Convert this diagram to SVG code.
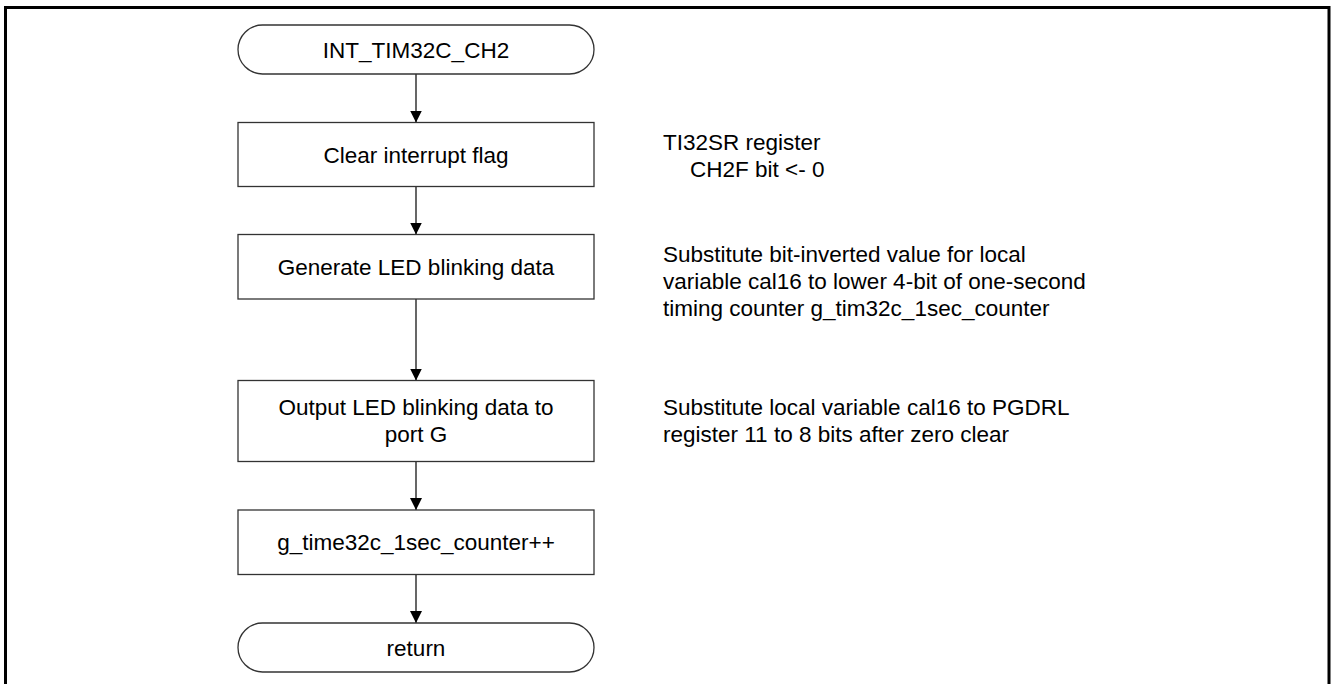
<svg xmlns="http://www.w3.org/2000/svg" width="1332" height="684" viewBox="0 0 1332 684">
<style>
  text { font-family: "Liberation Sans", Arial, sans-serif; font-size: 22.5px; fill: #000; }
  .c { text-anchor: middle; }
  .node { fill: #fff; stroke: #333; stroke-width: 1.3; }
  .conn { stroke: #000; stroke-width: 1.2; fill: none; marker-end: url(#arr); }
</style>
<defs>
  <marker id="arr" viewBox="0 0 12 12" refX="12" refY="6" markerWidth="12" markerHeight="12" markerUnits="userSpaceOnUse" orient="auto">
    <path d="M0,0 L12,6 L0,12 Z" fill="#000"/>
  </marker>
</defs>
<rect x="0" y="0" width="1332" height="684" fill="#fff"/>
<path d="M5.5,690 V7.5 H1329 V690" fill="none" stroke="#000" stroke-width="3"/>

<g id="connectors">
  <line class="conn" x1="416" y1="74" x2="416" y2="122.5"/>
  <line class="conn" x1="416" y1="186.5" x2="416" y2="234.5"/>
  <line class="conn" x1="416" y1="299" x2="416" y2="380.5"/>
  <line class="conn" x1="416" y1="461.5" x2="416" y2="510"/>
  <line class="conn" x1="416" y1="574.5" x2="416" y2="623"/>
</g>

<g id="start">
  <rect class="node" x="238" y="25" width="356" height="49" rx="24.5" ry="24.5"/>
  <text class="c" x="416" y="57.5">INT_TIM32C_CH2</text>
</g>
<g id="clear">
  <rect class="node" x="238" y="122.5" width="356" height="64"/>
  <text class="c" x="416" y="162.5">Clear interrupt flag</text>
</g>
<g id="generate">
  <rect class="node" x="238" y="234.5" width="356" height="64.5"/>
  <text class="c" x="416" y="275">Generate LED blinking data</text>
</g>
<g id="output">
  <rect class="node" x="238" y="380.5" width="356" height="81"/>
  <text class="c" x="416" y="415">Output LED blinking data to</text>
  <text class="c" x="416" y="441.5">port G</text>
</g>
<g id="increment">
  <rect class="node" x="238" y="510" width="356" height="64.5"/>
  <text class="c" x="416" y="550">g_time32c_1sec_counter++</text>
</g>
<g id="return">
  <rect class="node" x="238" y="623" width="356" height="49" rx="24.5" ry="24.5"/>
  <text class="c" x="416" y="655.5">return</text>
</g>

<g id="note-clear">
  <text x="663" y="150">TI32SR register</text>
  <text x="690" y="177">CH2F bit &lt;- 0</text>
</g>
<g id="note-generate">
  <text x="663" y="262">Substitute bit-inverted value for local</text>
  <text x="663" y="289">variable cal16 to lower 4-bit of one-second</text>
  <text x="663" y="316">timing counter g_tim32c_1sec_counter</text>
</g>
<g id="note-output">
  <text x="663" y="415">Substitute local variable cal16 to PGDRL</text>
  <text x="663" y="441.5">register 11 to 8 bits after zero clear</text>
</g>
</svg>
